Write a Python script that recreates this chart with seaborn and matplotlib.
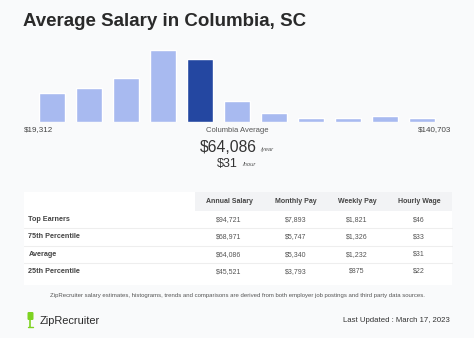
import matplotlib
matplotlib.use("Agg")
import matplotlib.pyplot as plt
import seaborn as sns
import pandas as pd
from matplotlib.patches import Rectangle, FancyBboxPatch

# ---- data ----
bins = [f"b{i}" for i in range(1, 12)]
freq = [29, 33.4, 43.7, 71.4, 62.4, 20.7, 9, 4, 3.4, 5.7, 4]
highlight_bin = "b5"
min_label = "$19,312"
max_label = "$140,703"
avg_label = "Columbia Average"
avg_year = "$64,086"
avg_hour = "$31"

col_headers = ["Annual Salary", "Monthly Pay", "Weekly Pay", "Hourly Wage"]
row_labels = ["Top Earners", "75th Percentile", "Average", "25th Percentile"]
annual = ["$94,721", "$68,971", "$64,086", "$45,521"]
monthly = ["$7,893", "$5,747", "$5,340", "$3,793"]
weekly = ["$1,821", "$1,326", "$1,232", "$875"]
hourly = ["$46", "$33", "$31", "$22"]

title = "Average Salary in Columbia, SC"
note = ("ZipRecruiter salary estimates, histograms, trends and comparisons are derived "
        "from both employer job postings and third party data sources.")
updated = "Last Updated : March 17, 2023"

sns.set_theme(style="white")
plt.rcParams['font.family'] = ['Liberation Sans', 'DejaVu Sans']

W, H = 474, 338
BG = "#f9fafb"
fig = plt.figure(figsize=(W / 100, H / 100), dpi=100, facecolor=BG)

# overlay axes in pixel coordinates
ov = fig.add_axes([0, 0, 1, 1])
ov.set_xlim(0, W)
ov.set_ylim(H, 0)
ov.axis("off")
ov.set_zorder(0)

# histogram axes
base = 121.7
ax = fig.add_axes([33.5 / W, 1 - base / H, 407 / W, 75 / H])
ax.set_zorder(1)
df = pd.DataFrame({"bin": bins, "freq": freq})
palette = {b: ("#2447a1" if b == highlight_bin else "#a8baf0") for b in bins}
sns.barplot(data=df, x="bin", y="freq", hue="bin", palette=palette, width=0.7,
            legend=False, ax=ax, saturation=1)
ax.set_xlim(-0.5, 10.5)
ax.set_ylim(0, 75)
ax.axis("off")
ax.patch.set_alpha(0)

ov.text(23.5, 21, title, fontsize=13.5, fontweight="bold", color="#2a2a2a", va="center", ha="left")
ov.text(24, 130, min_label, fontsize=5.8, color="#444444", va="center", ha="left")
ov.text(237.5, 130, avg_label, fontsize=5.5, color="#555555", va="center", ha="center")
ov.text(451, 130, max_label, fontsize=5.8, color="#444444", va="center", ha="right")

ov.text(257, 148, avg_year, fontsize=11.3, color="#333333", va="center", ha="right")
ov.text(260, 150, "/year", fontsize=4.2, color="#555555", va="center", ha="left", style="italic")
ov.text(238, 163.5, avg_hour, fontsize=9, color="#333333", va="center", ha="right")
ov.text(242, 164.5, "/hour", fontsize=4.2, color="#555555", va="center", ha="left", style="italic")

# table
tx0, tx1 = 24, 452
ov.add_patch(Rectangle((tx0, 191.5), tx1 - tx0, 93, facecolor="white", edgecolor="none"))
ov.add_patch(Rectangle((195, 191.5), tx1 - 195, 19.5, facecolor="#f2f3f5", edgecolor="none"))
col_x = [229, 296, 357, 419]
for cx, h in zip(col_x, col_headers):
    ov.text(cx, 201.5, h, fontsize=5.0, fontweight="bold", color="#444444", ha="center", va="center")
row_y = [219.7, 237, 254.2, 271.3]
for y in [228.3, 245.6, 262.8]:
    ov.plot([tx0, tx1], [y, y], color="#eeeeee", lw=0.8)
cols = [annual, monthly, weekly, hourly]
for i, (ry, rl) in enumerate(zip(row_y, row_labels)):
    ov.text(28.5, ry, rl, fontsize=5.2, fontweight="bold", color="#444444", ha="left", va="center")
    for cx, col in zip(col_x, cols):
        ov.text(cx, ry, col[i], fontsize=5.0, color="#555555", ha="center", va="center")

ov.text(237, 296, note, fontsize=4.3, color="#555555", ha="center", va="center")

# logo
ov.add_patch(FancyBboxPatch((27.5, 312), 6, 8, boxstyle="round,pad=0,rounding_size=1.2",
                            facecolor="#7ed321", edgecolor="none"))
ov.plot([30.5, 30.5], [320, 327], color="#7ed321", lw=1.2)
ov.plot([28, 33], [327, 327], color="#7ed321", lw=1.0)
ov.text(40, 320.5, "ZipRecruiter", fontsize=7.9, color="#2a2a2a", ha="left", va="center")
ov.text(450, 320.5, updated, fontsize=5.6, color="#333333", ha="right", va="center")

fig.savefig("out.png", dpi=100, facecolor=BG)
